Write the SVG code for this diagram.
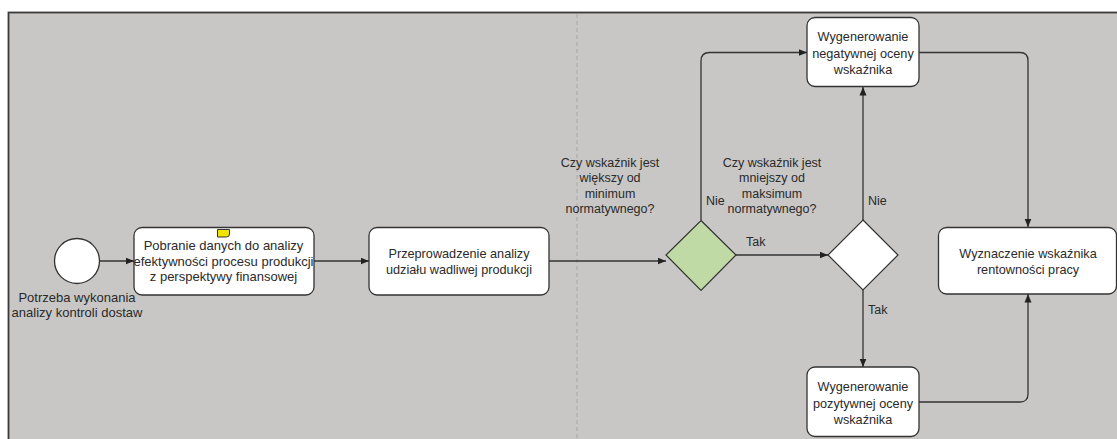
<svg xmlns="http://www.w3.org/2000/svg" width="1117" height="439" viewBox="0 0 1117 439">
<style>
text{font-family:"Liberation Sans",Arial,sans-serif;font-size:12.7px;fill:#2a2a2a;text-anchor:middle}
.lbl{text-anchor:start;font-size:12.5px}
.q{font-size:12.5px}
.big{font-size:13px}
.task{fill:#fff;stroke:#333;stroke-width:1.3}
.conn{fill:none;stroke:#333;stroke-width:1.3}
</style>
<defs>
<marker id="arr" markerWidth="9" markerHeight="8" refX="8.5" refY="4" orient="auto" markerUnits="userSpaceOnUse">
<path d="M0,0.5 L8.5,4 L0,7.5 Z" fill="#222"/>
</marker>
</defs>
<rect x="0" y="0" width="1117" height="439" fill="#fff"/>
<rect id="lane" x="8.5" y="12.5" width="1120" height="440" fill="#c8c7c5" stroke="#3a3a3a" stroke-width="1.8"/>
<line x1="577" y1="14" x2="577" y2="439" stroke="#a9a8a6" stroke-width="1" stroke-dasharray="4,3"/>

<g id="connectors">
<line class="conn" x1="99.5" y1="261" x2="134" y2="261" marker-end="url(#arr)"/>
<line class="conn" x1="314" y1="261" x2="369" y2="261" marker-end="url(#arr)"/>
<line class="conn" x1="549" y1="261" x2="666" y2="261" marker-end="url(#arr)"/>
<path class="conn" d="M701,220 V61 Q701,52.5 709.5,52.5 H807" marker-end="url(#arr)"/>
<line class="conn" x1="736" y1="255" x2="828" y2="255" marker-end="url(#arr)"/>
<line class="conn" x1="863" y1="220" x2="863" y2="87" marker-end="url(#arr)"/>
<line class="conn" x1="863" y1="290" x2="863" y2="367" marker-end="url(#arr)"/>
<path class="conn" d="M919,52.5 H1020 Q1028,52.5 1028,60.5 V227" marker-end="url(#arr)"/>
<path class="conn" d="M919,402 H1020 Q1028,402 1028,394 V294" marker-end="url(#arr)"/>
<text class="lbl" x="706" y="205">Nie</text>
<text class="lbl" x="746" y="246">Tak</text>
<text class="lbl" x="868" y="205">Nie</text>
<text class="lbl" x="868" y="314">Tak</text>
</g>

<g id="start">
<circle cx="77" cy="261" r="22.5" fill="#fff" stroke="#333" stroke-width="1.3"/>
<text class="big" x="77" y="301.5">Potrzeba wykonania</text>
<text class="big" x="77" y="317">analizy kontroli dostaw</text>
</g>

<g id="task1">
<rect class="task" x="134" y="227.5" width="180" height="67.5" rx="8"/>
<path d="M217.5,229.5 H229.5 V234 Q229.5,237 226.5,237 H217.5 Z" fill="#f2e400" stroke="#333" stroke-width="1"/>
<text class="big" x="223.5" y="249.5">Pobranie danych do analizy</text>
<text class="big" x="223.5" y="265.5">efektywności procesu produkcji</text>
<text class="big" x="223.5" y="281">z perspektywy finansowej</text>
</g>

<g id="task2">
<rect class="task" x="369" y="227.5" width="180" height="67.5" rx="8"/>
<text x="459" y="257.5">Przeprowadzenie analizy</text>
<text x="459" y="273.5">udziału wadliwej produkcji</text>
</g>

<g id="gateway1">
<path d="M701,220.5 L736,255 L701,290.5 L666,255 Z" fill="#bfdaa4" stroke="#333" stroke-width="1.2"/>
<text class="q" x="610" y="167">Czy wskaźnik jest</text>
<text class="q" x="610" y="182">większy od</text>
<text class="q" x="610" y="197.5">minimum</text>
<text class="q" x="610" y="213">normatywnego?</text>
</g>

<g id="gateway2">
<path d="M863,220 L898,255 L863,290 L828,255 Z" fill="#fff" stroke="#333" stroke-width="1.2"/>
<text class="q" x="772" y="167">Czy wskaźnik jest</text>
<text class="q" x="772" y="182">mniejszy od</text>
<text class="q" x="772" y="197.5">maksimum</text>
<text class="q" x="772" y="213">normatywnego?</text>
</g>

<g id="taskNeg">
<rect class="task" x="807" y="17.5" width="112" height="69" rx="8"/>
<text x="863" y="41">Wygenerowanie</text>
<text x="863" y="57.5">negatywnej oceny</text>
<text x="863" y="74">wskaźnika</text>
</g>

<g id="taskPos">
<rect class="task" x="807" y="367" width="112" height="69.5" rx="8"/>
<text x="863" y="391">Wygenerowanie</text>
<text x="863" y="407.5">pozytywnej oceny</text>
<text x="863" y="423.5">wskaźnika</text>
</g>

<g id="taskFinal">
<rect class="task" x="938.5" y="227.5" width="178" height="66.5" rx="8"/>
<text x="1028" y="257.5">Wyznaczenie wskaźnika</text>
<text x="1028" y="274">rentowności pracy</text>
</g>
</svg>
